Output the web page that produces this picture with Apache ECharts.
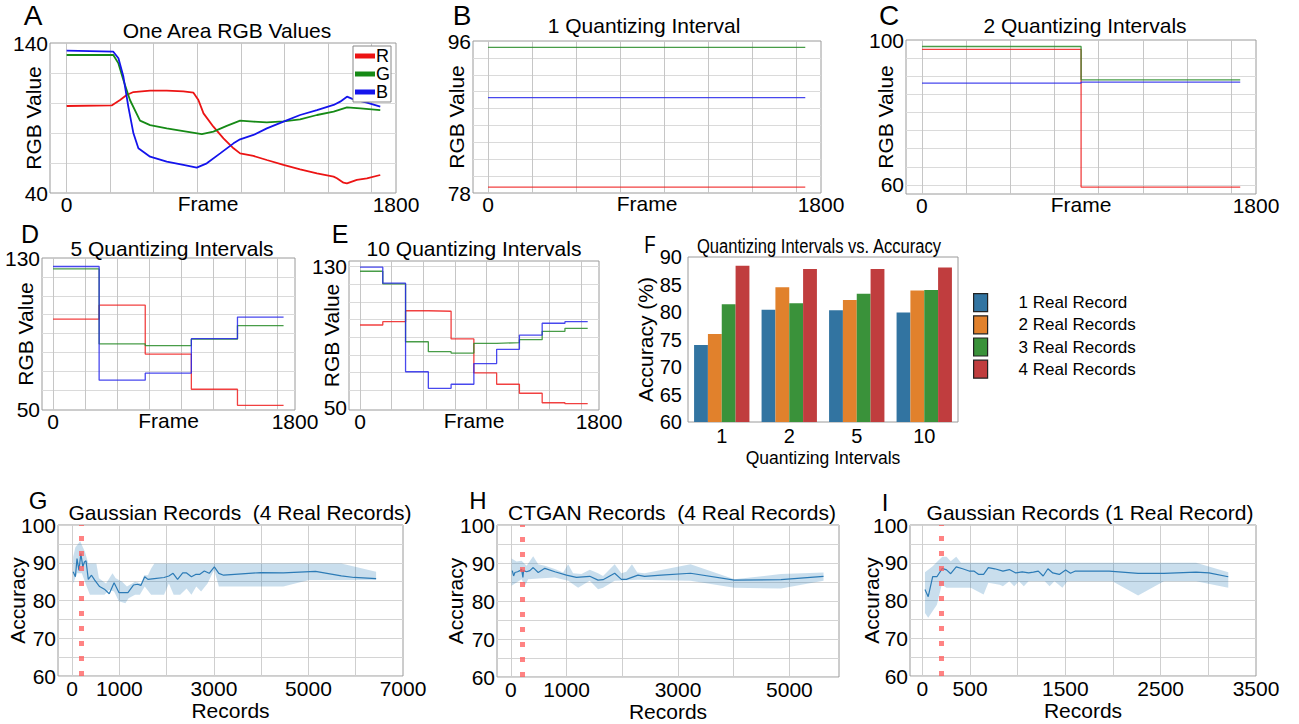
<!DOCTYPE html>
<html><head><meta charset="utf-8">
<script src="https://cdn.jsdelivr.net/npm/echarts@6/dist/echarts.min.js"></script>
<style>html,body{margin:0;padding:0;background:#fff}#c{width:1299px;height:724px}</style>
</head><body><div id="c"></div>
<script>
// ---------------- DATA ----------------
const frameCount = 1715;
// Panel A: raw RGB traces [frame, value]
const aRed = [[0,98.0],[246,98.4],[292,102.0],[328,105.3],[365,107.3],[456,108.2],[547,108.2],[638,107.8],[693,106.9],[720,102.0],[748,93.1],[802,84.2],[857,76.4],[912,69.8],[948,66.4],[1021,64.7],[1094,62.0],[1185,58.7],[1276,55.8],[1368,53.1],[1459,50.9],[1477,49.8],[1513,46.9],[1532,46.4],[1586,48.7],[1641,49.8],[1714,52.0]];
const aGreen = [[0,132.0],[255,132.0],[283,126.4],[310,115.3],[346,102.0],[401,88.2],[456,85.3],[547,83.1],[638,81.3],[739,79.3],[802,80.9],[875,84.7],[948,88.2],[1021,87.6],[1094,87.1],[1185,87.8],[1276,89.1],[1368,92.0],[1459,94.2],[1532,97.1],[1605,96.4],[1714,95.3]];
const aBlue = [[0,134.9],[255,134.2],[283,129.8],[310,117.6],[337,97.6],[365,79.8],[392,69.8],[456,64.2],[547,60.9],[638,58.7],[711,56.9],[766,59.8],[839,66.4],[912,73.1],[948,75.8],[1021,78.7],[1094,83.1],[1185,87.6],[1276,92.0],[1368,95.3],[1459,98.7],[1495,100.9],[1532,104.2],[1568,102.4],[1641,100.2],[1714,97.6]];
// Panels B-E: quantized means per interval
const q1R = [78.7], q1G = [95.25], q1B = [89.3];
const q2R = [97.4, 59.4], q2G = [98.2, 89.0], q2B = [88.1, 88.4];
const q5R = [97.6, 105.0, 79.1, 60.5, 52.0];
const q5G = [124.2, 84.5, 83.6, 87.0, 94.2];
const q5B = [125.5, 65.3, 69.0, 87.3, 98.7];
const q10R = [96.9, 98.8, 105.0, 104.7, 89.0, 69.7, 63.3, 58.2, 52.8, 52.3];
const q10G = [127.4, 120.2, 87.4, 81.8, 81.0, 86.5, 86.9, 88.6, 93.3, 95.0];
const q10B = [129.7, 120.6, 70.4, 61.0, 63.3, 75.0, 83.1, 91.2, 97.9, 98.8];
// Panel F
const qiCategories = ['1', '2', '5', '10'];
const fNames = ['1 Real Record', '2 Real Records', '3 Real Records', '4 Real Records'];
const acc1 = [74.0, 80.4, 80.3, 79.9];
const acc2 = [76.0, 84.5, 82.2, 83.9];
const acc3 = [81.4, 81.6, 83.3, 84.0];
const acc4 = [88.4, 87.8, 87.8, 88.1];
// Panel G
const gLine = [[20,87.6],[68,86.3],[102,91.1],[143,88.0],[184,92.4],[225,88.9],[259,90.2],[293,90.5],[341,85.6],[409,86.7],[477,85.4],[580,83.7],[682,83.0],[784,81.8],[887,84.7],[989,82.1],[1091,82.1],[1180,82.1],[1296,84.1],[1384,84.3],[1453,84.0],[1535,86.3],[1603,85.6],[1739,85.8],[1944,86.1],[2046,86.5],[2135,87.2],[2230,85.6],[2339,87.3],[2421,87.3],[2523,86.3],[2612,86.9],[2694,86.9],[2796,87.8],[2899,87.2],[3008,88.9],[3103,87.2],[3205,86.7],[3512,87.0],[3990,87.4],[4467,87.3],[5149,87.7],[5695,86.5],[5968,86.1],[6431,85.8]];
const gUpper = [[20,91.5],[68,94.1],[170,95.7],[273,92.8],[341,89.8],[512,89.8],[566,85.9],[716,84.5],[853,87.2],[921,85.9],[1057,85.0],[1159,83.7],[1330,85.0],[1466,84.5],[1521,86.7],[1603,86.7],[1671,88.5],[1739,89.8],[5695,89.8],[6431,87.6]];
const gLower = [[20,84.5],[102,87.2],[205,87.2],[307,83.7],[375,81.5],[682,81.5],[784,82.8],[887,82.4],[989,79.8],[1125,79.3],[1194,80.6],[1330,81.5],[1432,81.5],[1535,83.7],[1671,81.5],[1944,81.5],[2046,84.5],[2148,81.5],[2285,81.5],[2421,83.2],[2523,81.5],[2626,83.7],[2728,82.4],[2864,84.5],[2967,87.2],[3008,88.0],[3103,83.7],[4467,83.7],[5013,85.4],[6431,85.4]];
// Panel H
const hLine = [[24,88.0],[48,86.6],[72,87.5],[119,87.7],[161,88.0],[191,88.4],[215,86.2],[227,88.0],[281,87.7],[340,88.0],[400,88.8],[490,87.5],[609,88.6],[788,87.7],[997,86.8],[1176,86.2],[1415,86.5],[1564,85.5],[1654,85.6],[1863,87.3],[1982,85.7],[2072,85.7],[2281,86.8],[2400,86.5],[2698,86.8],[3224,87.3],[4012,85.5],[4848,85.6],[5612,86.5]];
const hUpper = [[12,91.2],[101,90.4],[191,90.6],[281,89.3],[400,91.8],[490,89.7],[609,89.3],[788,88.4],[937,87.5],[1027,89.7],[1116,87.3],[1266,87.1],[1415,88.2],[1564,87.3],[1654,86.6],[1863,89.7],[1982,87.3],[2072,87.7],[2173,89.7],[2269,87.5],[2400,87.3],[3224,89.7],[4012,85.7],[4848,87.1],[5612,87.5]];
const hLower = [[12,84.0],[101,84.9],[191,85.7],[251,84.0],[310,85.7],[490,85.9],[788,86.2],[1027,85.3],[1206,83.5],[1415,85.3],[1564,83.1],[1654,83.5],[1863,85.3],[2281,85.6],[3224,85.3],[4012,83.5],[4848,83.3],[5612,85.3]];
// Panel I
const iLine = [[27,82.9],[61,81.0],[108,86.3],[152,86.3],[209,88.5],[253,88.1],[297,87.1],[355,88.9],[422,88.4],[490,87.8],[540,87.8],[591,86.9],[642,86.9],[692,88.7],[760,88.4],[845,87.8],[912,88.2],[980,87.3],[1047,87.6],[1115,87.3],[1165,87.5],[1216,87.8],[1267,86.5],[1317,88.4],[1368,87.3],[1436,86.9],[1503,88.1],[1554,87.2],[1605,87.8],[1723,87.8],[1959,87.8],[2263,87.2],[2534,87.2],[2871,87.5],[3006,87.3],[3209,86.3]];
const iUpper = [[27,87.5],[108,89.1],[152,90.2],[209,91.6],[253,91.6],[297,90.4],[355,91.6],[405,90.0],[2871,90.0],[3209,87.5]];
const iLower = [[27,76.7],[61,75.4],[152,78.9],[203,84.2],[253,83.4],[507,83.4],[642,81.6],[692,84.7],[811,84.2],[845,83.8],[912,85.1],[963,83.8],[1013,85.1],[1064,83.8],[1115,85.1],[1284,85.1],[1334,83.8],[1385,85.1],[1469,83.4],[1520,85.1],[1993,85.1],[2263,81.3],[2534,85.1],[2871,85.1],[3209,83.4]];
const realRecordMark = 200;
// Tick labels
const frameLabels = [0, 1800];
const gLabels = [0, 1000, 3000, 5000, 7000];
const hLabels = [0, 1000, 3000, 5000];
const iLabels = [0, 500, 1500, 2500, 3500];

// ---------------- STYLE / LAYOUT ----------------
const FONT = "'Liberation Sans', Arial, sans-serif";
const TXT = {fontSize: 21, color: '#000', fontFamily: FONT};
const plain = v => String(v);
const frameGridStep = 238;
const frameGrid = [];
for (let v = 0; v < 1800; v += frameGridStep) frameGrid.push(v);
function range(a, b, s) { const r = []; for (let v = a; v <= b + 1e-9; v += s) r.push(+v.toFixed(4)); return r; }

const gridRects = [
  [50, 43, 346, 150],   // A
  [473, 41, 348, 152],  // B
  [906, 40, 350, 154],  // C
  [42, 258, 253, 152],  // D
  [349, 261, 250, 149], // E
  [688, 257, 270, 165], // F
  [58, 525, 345, 151],  // G
  [497, 525, 342, 152], // H
  [910, 525, 346, 151]  // I
];
const grid = gridRects.map(r => ({left: r[0], top: r[1], width: r[2], height: r[3], show: true,
  borderColor: '#9a9a9a', borderWidth: 1, backgroundColor: 'transparent', containLabel: false, outerBoundsMode: 'none'}));

function frameX(gi, min, namePad) {
  return {type: 'value', gridIndex: gi, min: min, max: 1800,
    axisLine: {show: false}, axisTick: {show: false, customValues: frameGrid},
    splitLine: {show: true, lineStyle: {color: '#c6c6c6', width: 1}},
    axisLabel: Object.assign({customValues: frameLabels, margin: 1, formatter: plain}, TXT),
    name: 'Frame', nameLocation: 'middle', nameGap: 0, nameMoveOverlap: false,
    nameTextStyle: Object.assign({padding: namePad || 0}, TXT)};
}
function rgbY(gi, min, max, lines, labels, gap) {
  return {type: 'value', gridIndex: gi, min: min, max: max,
    axisLine: {show: false}, axisTick: {show: false, customValues: lines},
    splitLine: {show: true, lineStyle: {color: '#dadada', width: 1}},
    axisLabel: Object.assign({customValues: labels, margin: 2, formatter: plain}, TXT),
    name: 'RGB Value', nameLocation: 'middle', nameGap: gap, nameRotate: 90, nameMoveOverlap: false,
    nameTextStyle: TXT};
}
function recX(gi, min, max, lines, labels) {
  return {type: 'value', gridIndex: gi, min: min, max: max,
    axisLine: {show: false}, axisTick: {show: false, customValues: lines},
    splitLine: {show: true, lineStyle: {color: '#cfcfcf', width: 1}},
    axisLabel: Object.assign({customValues: labels, margin: 2, formatter: plain}, TXT),
    name: 'Records', nameLocation: 'middle', nameGap: 24, nameMoveOverlap: false, nameTextStyle: TXT};
}
function accY(gi, gap) {
  return {type: 'value', gridIndex: gi, min: 60, max: 100, interval: 5,
    axisLine: {show: false}, axisTick: {show: false},
    splitLine: {show: true, lineStyle: {color: '#d4d4d4', width: 1}},
    axisLabel: Object.assign({margin: 2, formatter: v => (v % 10 === 0 ? String(v) : '')}, TXT),
    name: 'Accuracy', nameLocation: 'middle', nameGap: gap, nameRotate: 90, nameMoveOverlap: false, nameTextStyle: TXT};
}

const xAxis = [
  frameX(0, -91, [0, 30, 0, 0]),
  frameX(1, -81),
  frameX(2, -86),
  frameX(3, -82),
  frameX(4, -83),
  {type: 'category', gridIndex: 5, data: qiCategories, axisLine: {show: false}, axisTick: {show: false},
   axisLabel: Object.assign({}, TXT, {fontSize: 20, margin: 4}),
   name: 'Quantizing Intervals', nameLocation: 'middle', nameGap: 27, nameMoveOverlap: false,
   nameTextStyle: Object.assign({}, TXT, {fontSize: 17.5})},
  recX(6, -300, 7000, range(0, 6000, 1000), gLabels),
  recX(7, -250, 5890, range(0, 5000, 1000), hLabels),
  recX(8, -130, 3500, range(0, 3000, 500), iLabels)
];
const yAxis = [
  rgbY(0, 40, 140, range(60, 120, 20), [40, 140], 6),
  rgbY(1, 78, 96, range(80, 94, 2), [78, 96], 6),
  rgbY(2, 57.5, 100, range(60, 95, 5), [60, 100], 10),
  rgbY(3, 49.5, 130, range(60, 120, 10), [50, 130], 6),
  rgbY(4, 48.7, 133.2, range(60, 130, 10), [50, 130], 7),
  {type: 'value', gridIndex: 5, min: 60, max: 90, interval: 5, axisLine: {show: false}, axisTick: {show: false},
   splitLine: {show: false}, axisLabel: Object.assign({}, TXT, {fontSize: 20, margin: 6}),
   name: 'Accuracy (%)', nameLocation: 'middle', nameGap: 32, nameRotate: 90, nameMoveOverlap: false, nameTextStyle: TXT},
  accY(6, 30),
  accY(7, 31),
  accY(8, 28)
];

const RED = 'rgba(238,30,30,0.85)', GREEN = 'rgba(40,140,40,0.85)', BLUE = 'rgba(40,40,235,0.85)';
function stepData(values) {
  const n = values.length;
  const pts = values.map((v, i) => [i * frameCount / n, v]);
  pts.push([frameCount, values[n - 1]]);
  return pts;
}
const series = [];
function rawLine(name, data, color) {
  series.push({type: 'line', name: name, xAxisIndex: 0, yAxisIndex: 0, data: data, showSymbol: false,
    lineStyle: {color: color, width: 1.8}, itemStyle: {color: color}, animation: false});
}
rawLine('R', aRed, '#ec1414');
rawLine('G', aGreen, '#168a16');
rawLine('B', aBlue, '#1414ec');
function qLines(gi, tag, r, g, b) {
  [[r, RED, 'R'], [g, GREEN, 'G'], [b, BLUE, 'B']].forEach(([vals, col, k]) => {
    series.push({type: 'line', name: tag + k, xAxisIndex: gi, yAxisIndex: gi, data: stepData(vals), step: 'end',
      showSymbol: false, lineStyle: {color: col, width: 1.3}, animation: false});
  });
}
qLines(1, 'q1', q1R, q1G, q1B);
qLines(2, 'q2', q2R, q2G, q2B);
qLines(3, 'q5', q5R, q5G, q5B);
qLines(4, 'q10', q10R, q10G, q10B);

const barColors = ['#3274a1', '#e1812c', '#3a923a', '#c03d3e'];
[acc1, acc2, acc3, acc4].forEach((vals, i) => {
  series.push({type: 'bar', name: fNames[i], xAxisIndex: 5, yAxisIndex: 5, data: vals,
    barGap: '0%', barCategoryGap: '18%', itemStyle: {color: barColors[i]}, animation: false});
});

function bandSeries(gi, upper, lower) {
  return {type: 'custom', xAxisIndex: gi, yAxisIndex: gi, silent: true, clip: true, z: 1,
    data: upper, encode: {x: 0, y: 1}, animation: false,
    renderItem: function (params, api) {
      if (params.dataIndex !== 0) return null;
      const pts = upper.map(p => api.coord(p)).concat(lower.slice().reverse().map(p => api.coord(p)));
      return {type: 'polygon', shape: {points: pts}, style: {fill: 'rgba(31,119,180,0.24)', stroke: null}};
    }};
}
function accLine(gi, data) {
  return {type: 'line', xAxisIndex: gi, yAxisIndex: gi, data: data, showSymbol: false, z: 3,
    lineStyle: {color: '#2c7bb6', width: 1.2}, animation: false,
    markLine: {silent: true, symbol: 'none', label: {show: false}, animation: false,
      lineStyle: {color: 'rgba(255,90,90,0.75)', width: 5, type: [5, 10], cap: 'butt'},
      data: [{xAxis: realRecordMark}]}};
}
series.push(bandSeries(6, gUpper, gLower), accLine(6, gLine));
series.push(bandSeries(7, hUpper, hLower), accLine(7, hLine));
series.push(bandSeries(8, iUpper, iLower), accLine(8, iLine));

// [text, centerX, centerY, fontSize, horizontal squeeze]
const texts = [
  ['A', 33, 15, 28, 1], ['One Area RGB Values', 227, 30, 21, 1],
  ['B', 462, 15, 28, 1], ['1 Quantizing Interval', 644, 25, 21, 1],
  ['C', 889, 15, 28, 1], ['2 Quantizing Intervals', 1085, 25, 21, 1],
  ['D', 30, 234, 25, 1], ['5 Quantizing Intervals', 172, 248, 21, 1],
  ['E', 340, 234, 25, 1], ['10 Quantizing Intervals', 474, 248, 21, 1],
  ['F', 650, 245, 24, 0.78], ['Quantizing Intervals vs. Accuracy', 819, 246, 21, 0.79],
  ['G', 38, 500, 24, 1], ['Gaussian Records  (4 Real Records)', 240, 512, 21, 1],
  ['H', 478, 500, 24, 1], ['CTGAN Records  (4 Real Records)', 672, 512, 21, 1],
  ['I', 885, 502, 24, 1], ['Gaussian Records (1 Real Record)', 1090, 512, 21, 1]
];
const graphic = texts.map(([t, x, y, s, sx]) => ({type: 'text', x: x, y: y, scaleX: sx, silent: true, z: 10,
  style: {text: t, fontSize: s, fontFamily: FONT, fill: '#000', textAlign: 'center', textVerticalAlign: 'middle'}}));

const option = {
  backgroundColor: '#fff',
  animation: false,
  grid: grid,
  xAxis: xAxis,
  yAxis: yAxis,
  legend: [
    {data: ['R', 'G', 'B'], left: 353, top: 46, orient: 'vertical', icon: 'rect', itemWidth: 20, itemHeight: 5,
     itemGap: 0, selectedMode: false, borderColor: '#888', borderWidth: 1, padding: [1, 1, 1, 2],
     backgroundColor: '#fff', textStyle: Object.assign({}, TXT, {fontSize: 18, padding: [0, 0, 0, -4]})},
    {data: fNames, left: 968, top: 288, orient: 'vertical', icon: 'rect', itemWidth: 14, itemHeight: 18,
     itemGap: 3, selectedMode: false, itemStyle: {borderColor: '#222', borderWidth: 1.2},
     textStyle: Object.assign({}, TXT, {fontSize: 17, padding: [0, 0, 0, 26]})}
  ],
  graphic: graphic,
  series: series
};
const chart = echarts.init(document.getElementById('c'), null, {renderer: 'svg'});
chart.setOption(option);
</script>
</body></html>
